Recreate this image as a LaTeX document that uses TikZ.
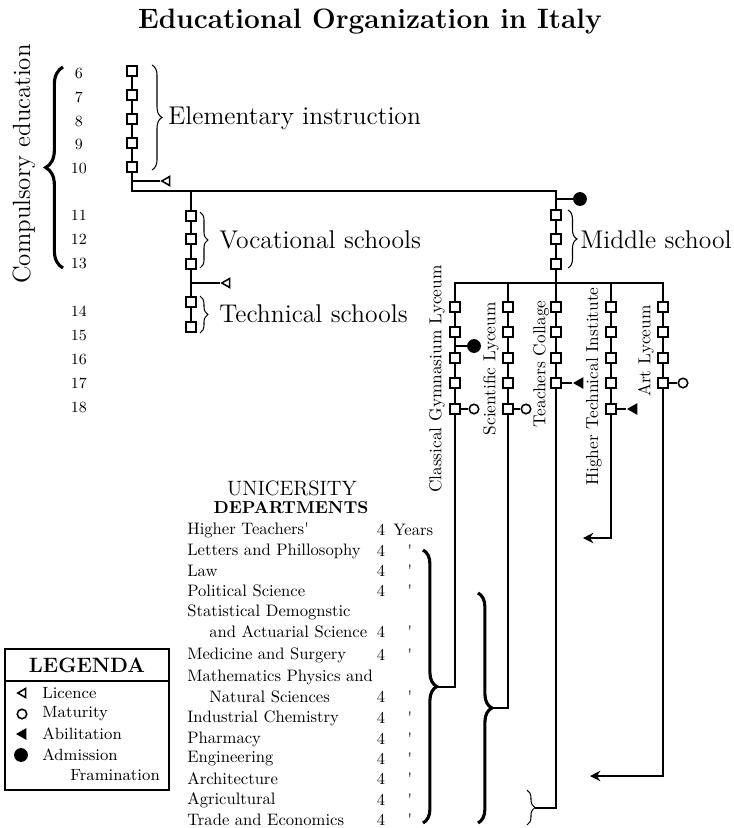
\documentclass[tikz,border=0pt]{standalone}
\usepackage{tikz}
\usetikzlibrary{positioning,arrows.meta,shapes.geometric,decorations.pathreplacing}
\tikzset{
  year-box/.style={draw, fill=white, line width=1pt, minimum size=5.5pt, inner sep=0pt},
  school-line/.style={line width=1.1pt},
  licence-mark/.style={regular polygon, regular polygon sides=3, shape border rotate=90,
    draw, fill=white, line width=0.9pt, minimum size=6pt, inner sep=0pt},
  abilitation-mark/.style={regular polygon, regular polygon sides=3, shape border rotate=90,
    fill=black, minimum size=8pt, inner sep=0pt},
  maturity-mark/.style={circle, draw, fill=white, line width=0.9pt, minimum size=5.5pt, inner sep=0pt},
  admission-mark/.style={circle, fill=black, minimum size=8pt, inner sep=0pt},
  small-brace/.style={decorate, decoration={brace, amplitude=#1}, line width=0.6pt},
  small-brace/.default=5pt,
  big-brace/.style={decorate, decoration={brace, amplitude=#1}, line width=1.8pt},
  big-brace/.default=8pt,
  uni-arrow/.style={school-line, -{Stealth[length=6pt, width=6pt, inset=2pt]}},
  title-text/.style={font=\fontsize{16.2}{20}\selectfont\bfseries, anchor=base, inner sep=0pt},
  school-label/.style={font=\fontsize{14.8}{18}\selectfont, anchor=west, inner sep=0pt},
  course-label/.style={rotate=90, anchor=east, inner sep=0pt},
  age-label/.style={font=\small, inner sep=0pt},
  dept-label/.style={font=\fontsize{9.6}{12}\selectfont, anchor=west, inner sep=0pt},
  year-text/.style={font=\fontsize{9.6}{12}\selectfont, inner sep=0pt},
  legend-frame/.style={line width=1.1pt},
  legend-text/.style={font=\fontsize{9.4}{11}\selectfont, anchor=west, inner sep=0pt}
}

\begin{document}
\begin{tikzpicture}[x=0.578pt, y=-0.578pt]
\useasboundingbox (0,0) rectangle (734,828);

% Title
\node[title-text] (title) at (370,28) {Educational Organization in Italy};

% Ages and compulsory education
\node[font=\Large, rotate=90, inner sep=0pt] (compulsory) at (24,164) {Compulsory education};
\draw[big-brace=10pt] (63,268) -- (63,67);
\foreach \age/\y in {6/73,7/97,8/121,9/144,10/168,11/215,12/239,13/263,14/311,15/335,16/359,17/383,18/407}
  \node[age-label] (age\age) at (79,\y) {\age};

% Elementary instruction
\foreach \y [count=\i] in {71,95,119,143,167}
  \node[year-box] (el\i) at (132,\y) {};
\foreach \i/\j in {1/2,2/3,3/4,4/5}
  \draw[school-line] (el\i) -- (el\j);
\draw[small-brace=5.8pt] (152,65) -- (152,170);
\node[school-label] (elementary) at (168,118) {Elementary instruction};
\node[licence-mark] (el-lic) at (167,181) {};
\draw[school-line] (el5 |- el-lic) -- (el-lic);

% Middle school
\foreach \y [count=\i] in {215,239,264}
  \node[year-box] (ms\i) at (556,\y) {};
\foreach \i/\j in {1/2,2/3}
  \draw[school-line] (ms\i) -- (ms\j);
\coordinate (ms-top) at (556,191);
\draw[school-line] (el5) |- (ms-top) -- (ms1);
\node[admission-mark] (ms-adm) at (580,199) {};
\draw[school-line] (ms1 |- ms-adm) -- (ms-adm);
\draw[small-brace=5.2pt] (568,210) -- (568,268);
\node[school-label] (middle) at (580,240) {Middle school};

% Vocational and technical schools
\foreach \y [count=\i] in {216,239,264}
  \node[year-box] (vo\i) at (191,\y) {};
\foreach \y [count=\i] in {302,327}
  \node[year-box] (te\i) at (191,\y) {};
\draw[school-line] (vo1 |- ms-top) -- (vo1);
\foreach \i/\j in {1/2,2/3}
  \draw[school-line] (vo\i) -- (vo\j);
\draw[school-line] (vo3) -- (te1);
\draw[school-line] (te1) -- (te2);
\node[licence-mark] (vo-lic) at (227,283) {};
\draw[school-line] (vo3 |- vo-lic) -- (vo-lic);
\draw[small-brace=4.6pt] (200,212) -- (200,268);
\node[school-label] (vocational) at (219,240) {Vocational schools};
\draw[small-brace=4.6pt] (200,296) -- (200,333);
\node[school-label] (technical) at (219,314) {Technical schools};

% Upper secondary schools
\foreach \y [count=\i] in {307,332,358,383,409} {
  \node[year-box] (cl\i) at (455,\y) {};
  \node[year-box] (sc\i) at (508,\y) {};
  \node[year-box] (ht\i) at (611,\y) {};
}
\foreach \y [count=\i] in {307,332,358,383} {
  \node[year-box] (tc\i) at (556,\y) {};
  \node[year-box] (ar\i) at (663,\y) {};
}
\foreach \c in {cl,sc,ht}
  \foreach \i/\j in {1/2,2/3,3/4,4/5}
    \draw[school-line] (\c\i) -- (\c\j);
\foreach \c in {tc,ar}
  \foreach \i/\j in {1/2,2/3,3/4}
    \draw[school-line] (\c\i) -- (\c\j);
\coordinate (bar) at (556,283);
\draw[school-line] (ms3) -- (tc1);
\draw[school-line] (cl1) -- (cl1 |- bar) -- (ar1 |- bar) -- (ar1);
\foreach \c in {sc,ht}
  \draw[school-line] (\c1 |- bar) -- (\c1);

\node[course-label] (cl-name) at (437,265) {Classical Gymnasium Lyceum};
\node[course-label] (sc-name) at (491,302) {Scientific Lyceum};
\node[course-label] (tc-name) at (541,300) {Teachers Collage};
\node[course-label] (ht-name) at (594,287) {Higher Technical Institute};
\node[course-label] (ar-name) at (646,305) {Art Lyceum};

% Diplomas
\node[admission-mark] (cl-adm) at (474,346) {};
\draw[school-line] (cl2 |- cl-adm) -- (cl-adm);
\node[maturity-mark] (cl-mat) at (474,409) {};
\draw[school-line] (cl5) -- (cl-mat);
\node[maturity-mark] (sc-mat) at (526,409) {};
\draw[school-line] (sc5) -- (sc-mat);
\node[abilitation-mark] (tc-abi) at (580,383) {};
\draw[school-line] (tc4) -- (tc-abi);
\node[abilitation-mark] (ht-abi) at (634,409) {};
\draw[school-line] (ht5) -- (ht-abi);
\node[maturity-mark] (ar-mat) at (683,383) {};
\draw[school-line] (ar4) -- (ar-mat);

% University
\node[font=\large, inner sep=0pt] (uni) at (292,488) {UNICERSITY};
\node[font=\bfseries, inner sep=0pt] (departments) at (291,508) {DEPARTMENTS};
\foreach \x/\y/\dept [count=\i] in {187/530/Higher Teachers\textquotesingle,
    187/551/Letters and Phillosophy, 187/571/Law, 187/591/Political Science,
    187/612/Statistical Demognstic, 209/632/and Actuarial Science,
    187/655/Medicine and Surgery, 187/677/Mathematics Physics and,
    209/697/Natural Sciences, 187/718/Industrial Chemistry, 187/739/Pharmacy,
    187/759/Engineering, 187/779/Architecture, 187/800/Agricultural,
    187/820/Trade and Economics}
  \node[dept-label] (dept\i) at (\x,\y) {\dept};
\foreach \y [count=\i] in {530,551,571,591,632,655,697,718,739,759,779,800,820}
  \node[year-text] (four\i) at (381,\y) {4};
\node[dept-label] (years) at (393,530) {Years};
\foreach \y [count=\i] in {551,571,591,632,655,697,718,739,759,779,800,820}
  \node[year-text] (ditto\i) at (410,\y) {\textquotesingle};

\draw[big-brace=8pt] (423,550) -- (423,823);
\coordinate (cl-tip) at (437,687);
\draw[big-brace=8pt] (478,593) -- (478,823);
\coordinate (sc-tip) at (492,708);
\draw[small-brace=4.6pt] (527,790) -- (527,825);
\coordinate (tc-tip) at (535,808);
\draw[school-line] (cl5) |- (cl-tip);
\draw[school-line] (sc5) |- (sc-tip);
\draw[school-line] (tc4) |- (tc-tip);
\coordinate (ht-end) at (583,538);
\draw[uni-arrow] (ht5) |- (ht-end);
\coordinate (ar-end) at (590,776);
\draw[uni-arrow] (ar4) |- (ar-end);

% Legend
\draw[legend-frame] (5,649) rectangle (169,790);
\draw[legend-frame] (5,681) -- (169,681);
\node[font=\large\bfseries, inner sep=0pt] (legenda) at (87,665) {LEGENDA};
\node[licence-mark] (key-lic) at (23,693) {};
\node[legend-text] (lic-text) at (42,693) {Licence};
\node[maturity-mark] (key-mat) at (22,714) {};
\node[legend-text] (mat-text) at (42,714) {Maturity};
\node[abilitation-mark] (key-abi) at (23,734) {};
\node[legend-text] (abi-text) at (42,734) {Abilitation};
\node[admission-mark] (key-adm) at (21,755) {};
\node[legend-text] (adm-text) at (42,755) {Admission};
\node[legend-text] (fra-text) at (70,775) {Framination};
\end{tikzpicture}
\end{document}
